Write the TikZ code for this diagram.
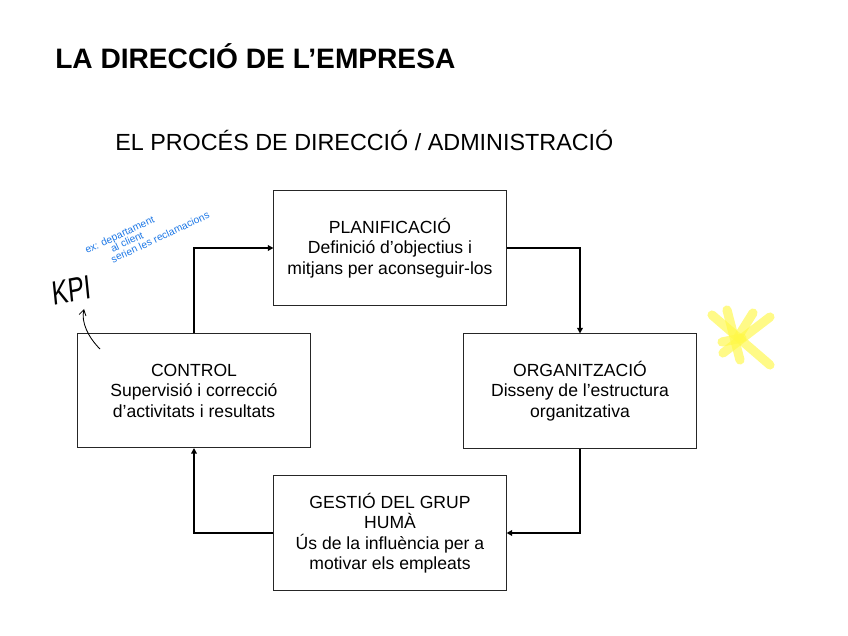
\documentclass[tikz,border=0pt]{standalone}
\usepackage{fontspec}
\setmainfont{Liberation Sans}
\usetikzlibrary{arrows.meta,positioning}
\definecolor{inkblue}{RGB}{30,120,230}
\definecolor{hlyellow}{RGB}{255,248,70}
\tikzset{
  stage/.style={draw=black!85, line width=0.7pt, minimum width=5.8cm, minimum height=2.85cm,
    align=center, inner sep=2pt, font=\fontsize{12.5}{14.6}\selectfont},
  flow/.style={-{Triangle[length=4pt,width=4pt]}, line width=1pt},
  ttl/.style={font=\fontsize{20}{24}\selectfont\bfseries, anchor=base west, inner sep=0pt},
  subttl/.style={font=\fontsize{16.6}{20}\selectfont, anchor=base west, inner sep=0pt},
  note/.style={font=\fontsize{7.3}{6.9}\selectfont, text=inkblue, rotate=25, align=left,
    anchor=north west, inner sep=0pt},
  hand/.style={font=\fontsize{24}{26}\selectfont, xscale=0.72, rotate=8, inner sep=0pt},
  hlstroke/.style={hlyellow, opacity=0.65, line width=6.5pt, line cap=round},
}
\begin{document}
\begin{tikzpicture}[x=0.025cm, y=-0.025cm]
\useasboundingbox (0,0) rectangle (848,636);
%---- titles
\node[ttl] (title) at (55,69) {LA DIRECCIÓ DE L’EMPRESA};
\node[subttl] (subtitle) at (115,151) {EL PROCÉS DE DIRECCIÓ / ADMINISTRACIÓ};
%---- the four stages
\node[stage] (plan) at (390,248) {PLANIFICACIÓ\\Definició d’objectius i\\mitjans per aconseguir-los};
\node[stage] (org) at (580,391) {ORGANITZACIÓ\\Disseny de l’estructura\\organitzativa};
\node[stage] (gest) at (390,533) {GESTIÓ DEL GRUP\\HUMÀ\\Ús de la influència per a\\motivar els empleats};
\node[stage] (ctrl) at (194,390.5) {CONTROL\\Supervisió i correcció\\d’activitats i resultats};
%---- the cycle
\draw[flow] (plan.east) -| (org.north);
\draw[flow] (org.south) |- (gest.east);
\draw[flow] (gest.west) -| (ctrl.south);
\draw[flow] (ctrl.north) |- (plan.west);
%---- handwritten notes
\node[hand] (kpi) at (72,290) {KPI};
\coordinate (kpitail) at (100,349);
\coordinate (kpitip) at (84,309);
\draw[-{Straight Barb[length=4pt,width=5pt]}, line width=0.6pt] (kpitail) .. controls (88,337) and (81,322) .. (kpitip);
\node[note] (example) at (83.5,247) {ex: departament\\\hspace*{17pt}al client\\\hspace*{14pt}serien les reclamacions};
%---- yellow scribble
\draw[hlstroke] (712,315) -- (770,365);
\draw[hlstroke] (770,317) -- (723,353);
\draw[hlstroke] (727,310) -- (740,360);
\draw[hlstroke] (753,313) -- (738,337);
\draw[hlstroke] (722,342) -- (742,338);
\end{tikzpicture}
\end{document}
